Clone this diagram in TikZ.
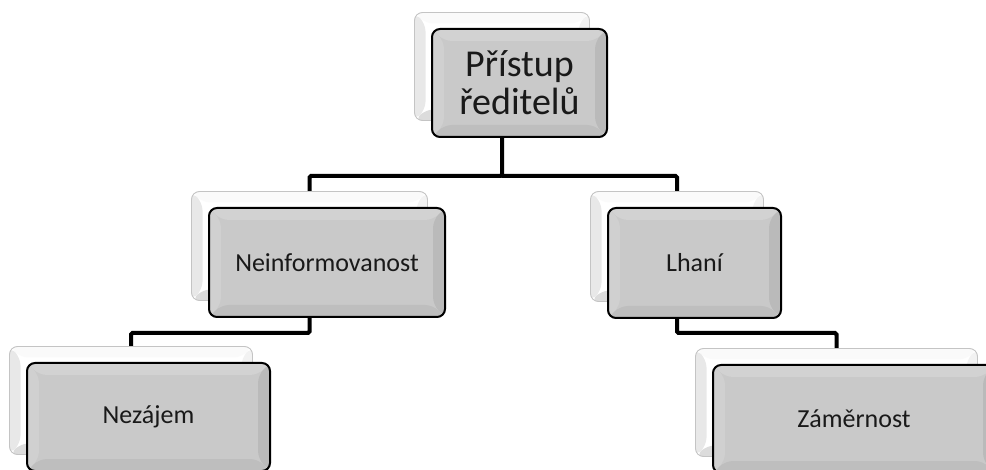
\documentclass[tikz,border=0pt]{standalone}
\usepackage{fontspec}
\setmainfont{Carlito}
\usetikzlibrary{calc}
\pgfdeclarelayer{bg}
\pgfsetlayers{bg,main}
\definecolor{fface}{HTML}{C9C9C9}
\definecolor{ftop}{HTML}{D2D2D2}
\definecolor{fleft}{HTML}{D0D0D0}
\definecolor{fright}{HTML}{BABABA}
\definecolor{fbottom}{HTML}{BEBEBE}
\definecolor{btop}{HTML}{FAFAFA}
\definecolor{bleft}{HTML}{E8E8E8}
\definecolor{bright}{HTML}{F2F2F2}
\definecolor{bbottom}{HTML}{DCDCDC}
\definecolor{bborder}{HTML}{C4C4C4}
\tikzset{
  bevel/.style n args={5}{path picture={
    \fill[#2] (path picture bounding box.north west) -- (path picture bounding box.north east)
      -- ([shift={(-#1,-#1)}]path picture bounding box.north east) -- ([shift={(#1,-#1)}]path picture bounding box.north west) -- cycle;
    \fill[#3] (path picture bounding box.north west) -- (path picture bounding box.south west)
      -- ([shift={(#1,#1)}]path picture bounding box.south west) -- ([shift={(#1,-#1)}]path picture bounding box.north west) -- cycle;
    \fill[#4] (path picture bounding box.north east) -- (path picture bounding box.south east)
      -- ([shift={(-#1,#1)}]path picture bounding box.south east) -- ([shift={(-#1,-#1)}]path picture bounding box.north east) -- cycle;
    \fill[#5] (path picture bounding box.south west) -- (path picture bounding box.south east)
      -- ([shift={(-#1,#1)}]path picture bounding box.south east) -- ([shift={(#1,#1)}]path picture bounding box.south west) -- cycle;
  }},
  backbox/.style={rounded corners=8pt, draw=bborder, line width=0.9pt, fill=white,
    inner sep=0pt, bevel={11pt}{btop}{bleft}{bright}{bbottom}},
  frontbox/.style={rounded corners=8pt, draw=black, line width=2pt, fill=fface,
    inner sep=0pt, align=center, text=black!90, bevel={12pt}{ftop}{fleft}{fright}{fbottom}},
  conn/.style={line width=4pt, black, rounded corners=1.5pt},
  bigtext/.style={font=\fontsize{38pt}{38pt}\selectfont},
  smalltext/.style={font=\fontsize{26pt}{30pt}\selectfont},
}
\newcommand{\smartpair}[7]{%
  \node[backbox, minimum width=#4pt, minimum height=#5pt] (b#1) at (#2-17.5,#3-16.5) {};
  \node[frontbox, #6, minimum width=#4pt, minimum height=#5pt] (f#1) at (#2,#3) {#7};
}
\begin{document}
\begin{tikzpicture}[x=1pt,y=-1pt]
\useasboundingbox (0,0) rectangle (986,470);
\smartpair{0}{519.5}{83}{175}{108}{bigtext}{Přístup\\ředitelů}
\smartpair{1}{327}{262.5}{236}{109}{smalltext}{Neinformovanost}
\smartpair{2}{694.5}{263}{173}{110}{smalltext}{Lhaní}
\smartpair{3}{148.5}{417}{243}{108}{smalltext}{Nezájem}
\smartpair{4}{854}{419}{282}{108}{smalltext}{Záměrnost}
\coordinate (hubA) at (0,176);
\coordinate (hubB) at (0,333);
\begin{pgfonlayer}{bg}
\draw[conn] (b0.center) -- (b0.center |- hubA) -| (b1.north);
\draw[conn] (b0.center |- hubA) -| (b2.north);
\draw[conn] (b1.center) -- (b1.center |- hubB) -| (b3.north);
\draw[conn] (b2.center) -- (b2.center |- hubB) -| (b4.north);
\end{pgfonlayer}
\end{tikzpicture}
\end{document}
